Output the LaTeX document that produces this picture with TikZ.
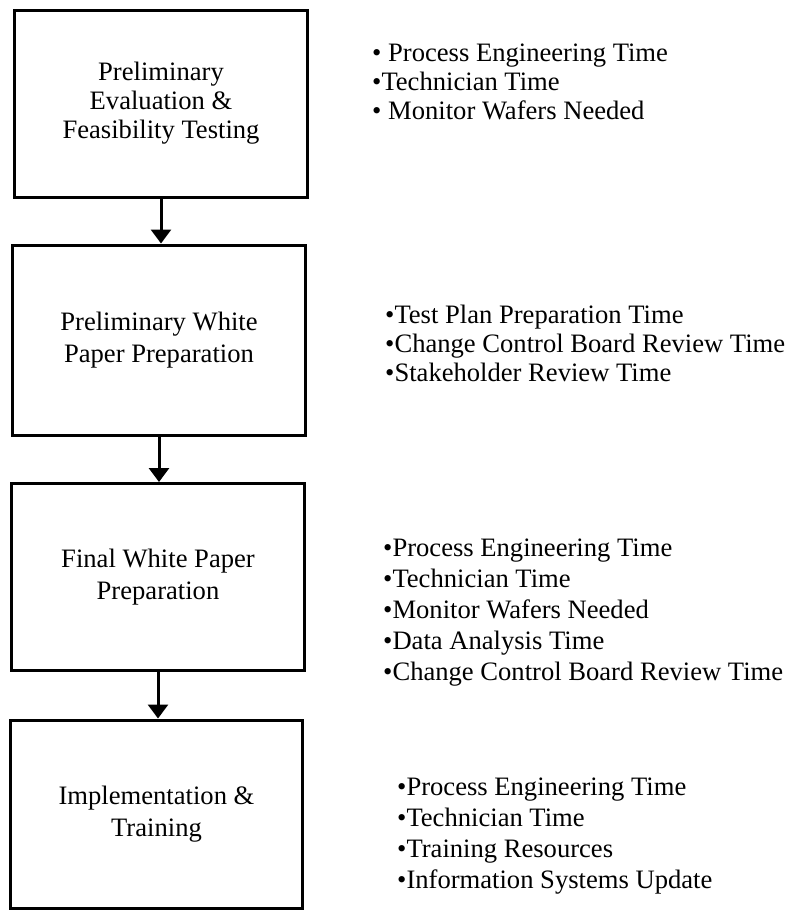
\documentclass[tikz,border=0pt]{standalone}
\usepackage{fontspec}
\setmainfont{Liberation Serif}
\usetikzlibrary{arrows.meta}
\begin{document}
\begin{tikzpicture}[x=1bp,y=-1bp,
  stage/.style={draw, line width=3bp, minimum width=292bp, minimum height=188bp,
    align=center, inner sep=0pt, font=\fontsize{26.6bp}{32bp}\selectfont},
  flow/.style={line width=3bp, -{Triangle[width=20bp,length=14bp]}},
  items/.style={anchor=west, align=left, inner sep=0pt}]
\useasboundingbox (0,0) rectangle (796,911);

% process stages
\node[stage, minimum height=187bp, font=\fontsize{26.6bp}{29bp}\selectfont] (s1) at (161,103.5)
  {Preliminary\\Evaluation \&\\Feasibility Testing};
\node[stage, minimum height=190bp] (s2) at (159,340) {Preliminary White\\Paper Preparation};
\node[stage, minimum height=187bp] (s3) at (158,577) {Final White Paper\\Preparation};
\node[stage, minimum height=188bp] (s4) at (156.5,814) {Implementation \&\\Training};

% flow between stages
\draw[flow] (s1.south) -- (s1.south |- s2.north);
\draw[flow] (s2.south) -- (s2.south |- s3.north);
\draw[flow] (s3.south) -- (s3.south |- s4.north);

% resources needed at each stage
\node[items, font=\fontsize{26.6bp}{29bp}\selectfont] (r1) at (372,82)
  {\textbullet\ Process Engineering Time\\\textbullet Technician Time\\\textbullet\ Monitor Wafers Needed};
\node[items, font=\fontsize{26.6bp}{29bp}\selectfont] (r2) at (385,343)
  {\textbullet Test Plan Preparation Time\\\textbullet Change Control Board Review Time\\\textbullet Stakeholder Review Time};
\node[items, font=\fontsize{26.6bp}{31bp}\selectfont] (r3) at (383,613)
  {\textbullet Process Engineering Time\\\textbullet Technician Time\\\textbullet Monitor Wafers Needed\\\textbullet Data Analysis Time\\\textbullet Change Control Board Review Time};
\node[items, font=\fontsize{26.6bp}{31bp}\selectfont] (r4) at (397,836)
  {\textbullet Process Engineering Time\\\textbullet Technician Time\\\textbullet Training Resources\\\textbullet Information Systems Update};
\end{tikzpicture}
\end{document}
